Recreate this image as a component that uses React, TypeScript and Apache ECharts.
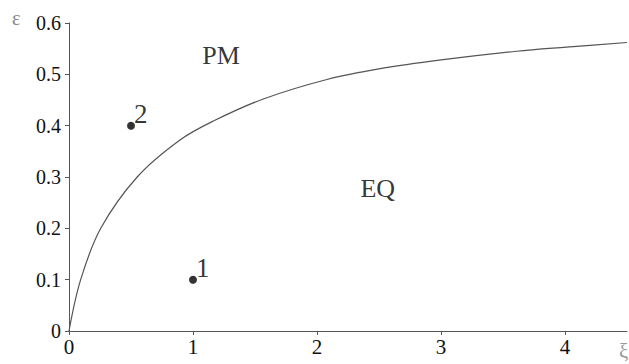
import React, { useEffect, useRef } from "react";
import * as echarts from "echarts";

const curveX = [0, 0.094, 0.256, 0.55, 0.895, 1.164, 1.567, 2.08, 2.51, 3.0, 3.61, 4.01, 4.5];
const curveY = [0, 0.1, 0.2, 0.3, 0.372, 0.409, 0.452, 0.49, 0.511, 0.528, 0.545, 0.553, 0.562];

const pointNames = ["2", "1"];
const pointX = [0.5, 1];
const pointY = [0.4, 0.1];

const regionNames = ["PM", "EQ"];
const regionX = [1.226, 2.49];
const regionY = [0.536, 0.277];

const xTicks = [0, 1, 2, 3, 4];
const yTicks = [0, 0.1, 0.2, 0.3, 0.4, 0.5, 0.6];

const FONT = "'Times New Roman', 'Liberation Serif', serif";

export default function App() {
  const ref = useRef<HTMLDivElement>(null);
  useEffect(() => {
    document.body.style.margin = "0";
    const chart = echarts.init(ref.current!, null, { renderer: "svg" });
    const axisLine = { show: true, lineStyle: { color: "#555", width: 1 } };
    chart.setOption({
      animation: false,
      backgroundColor: "#fff",
      grid: { left: 69, right: 2, top: 23, bottom: 33, containLabel: false },
      xAxis: {
        type: "value",
        min: 0,
        max: 4.5,
        interval: 1,
        axisLine,
        axisTick: { show: true, length: 4, lineStyle: { color: "#555" } },
        splitLine: { show: false },
        axisLabel: {
          color: "#111",
          fontFamily: FONT,
          fontSize: 21,
          margin: 5,
          showMaxLabel: false,
          formatter: (v: number) => (xTicks.includes(v) ? String(v) : ""),
        },
      },
      yAxis: {
        type: "value",
        min: 0,
        max: 0.6,
        interval: 0.1,
        axisLine,
        axisTick: { show: true, length: 4, lineStyle: { color: "#555" } },
        splitLine: { show: false },
        axisLabel: {
          color: "#111",
          fontFamily: FONT,
          fontSize: 20,
          margin: 8,
          formatter: (v: number) => {
            const t = yTicks.find((k) => Math.abs(k - v) < 1e-9);
            return t === undefined ? "" : t === 0 ? "0" : t.toFixed(1);
          },
        },
      },
      graphic: [
        {
          type: "text",
          left: 12,
          top: 8,
          style: { text: "ε", fill: "#888", fontFamily: FONT, fontSize: 20 },
        },
        {
          type: "text",
          left: 619,
          top: 340,
          style: { text: "ξ", fill: "#999", fontFamily: FONT, fontSize: 21 },
        },
      ],
      series: [
        {
          type: "line",
          data: curveX.map((x, i) => [x, curveY[i]]),
          smooth: 0.35,
          showSymbol: false,
          lineStyle: { color: "#555", width: 1.2 },
          silent: true,
        },
        {
          type: "scatter",
          data: pointX.map((x, i) => ({ name: pointNames[i], value: [x, pointY[i]] })),
          symbolSize: 8,
          itemStyle: { color: "#000" },
          label: {
            show: true,
            position: "right",
            distance: 0,
            offset: [-1, -12],
            formatter: "{b}",
            color: "#000",
            fontFamily: FONT,
            fontSize: 27,
          },
        },
        {
          type: "scatter",
          data: regionX.map((x, i) => ({ name: regionNames[i], value: [x, regionY[i]] })),
          symbolSize: 0,
          itemStyle: { color: "transparent" },
          label: {
            show: true,
            position: "inside",
            formatter: "{b}",
            color: "#000",
            fontFamily: FONT,
            fontSize: 26,
          },
        },
      ],
    });
    return () => chart.dispose();
  }, []);
  return <div ref={ref} style={{ width: 629, height: 364 }} />;
}
